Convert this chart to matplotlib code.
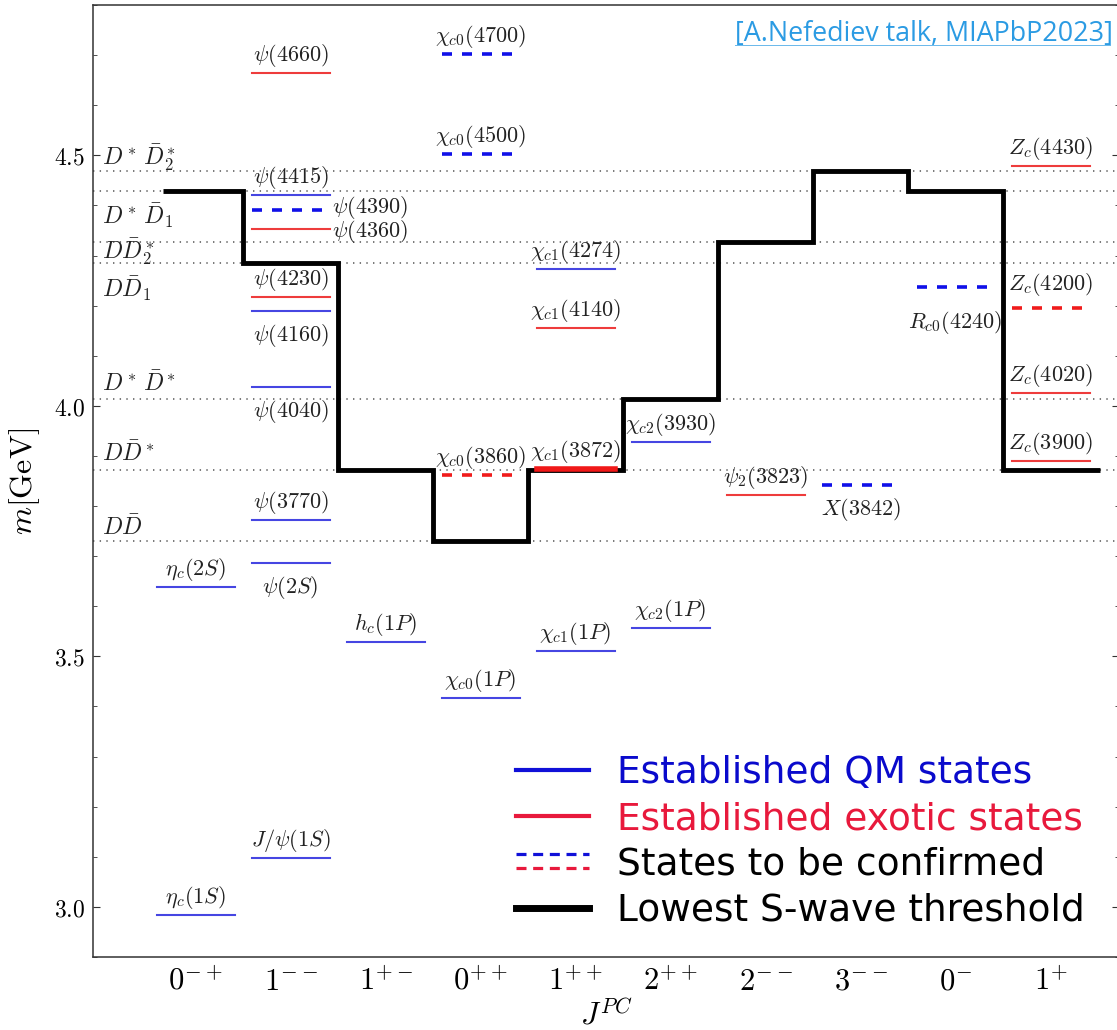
import matplotlib.pyplot as plt
from matplotlib.lines import Line2D
from matplotlib.legend_handler import HandlerBase
from matplotlib.ticker import MultipleLocator, FormatStrFormatter

plt.rcParams['mathtext.fontset'] = 'cm'
plt.rcParams['lines.scale_dashes'] = False

# J^PC columns
jpc = [r'$0^{-+}$', r'$1^{--}$', r'$1^{+-}$', r'$0^{++}$', r'$1^{++}$',
       r'$2^{++}$', r'$2^{--}$', r'$3^{--}$', r'$0^{-}$', r'$1^{+}$']

# lowest S-wave threshold in each column [GeV]
thr_mass = [4.428, 4.285, 3.872, 3.730, 3.872, 4.013, 4.326, 4.468, 4.428, 3.872]
thr_edges = [-0.34, 0.5, 1.5, 2.5, 3.5, 4.5, 5.5, 6.5, 7.5, 8.5, 9.52]

# open-charm thresholds (dotted lines)
ch_names = [r'$D^*\,\bar{D}_2^*$', r'$D^*\,\bar{D}_1$', r'$D\bar{D}_2^*$', r'$D\bar{D}_1$',
            r'$D^*\,\bar{D}^*$', r'$D\bar{D}^*$', r'$D\bar{D}$']
ch_mass = [4.468, 4.428, 4.326, 4.285, 4.013, 3.872, 3.730]

# states: name, column, mass [GeV], kind
st_name = [r'$\eta_c(1S)$', r'$\eta_c(2S)$',
           r'$J/\psi(1S)$', r'$\psi(2S)$', r'$\psi(3770)$', r'$\psi(4040)$', r'$\psi(4160)$',
           r'$\psi(4230)$', r'$\psi(4360)$', r'$\psi(4390)$', r'$\psi(4415)$', r'$\psi(4660)$',
           r'$h_c(1P)$',
           r'$\chi_{c0}(1P)$', r'$\chi_{c0}(3860)$', r'$\chi_{c0}(4500)$', r'$\chi_{c0}(4700)$',
           r'$\chi_{c1}(1P)$', r'$\chi_{c1}(3872)$', r'$\chi_{c1}(4140)$', r'$\chi_{c1}(4274)$',
           r'$\chi_{c2}(1P)$', r'$\chi_{c2}(3930)$',
           r'$\psi_2(3823)$', r'$X(3842)$', r'$R_{c0}(4240)$',
           r'$Z_c(3900)$', r'$Z_c(4020)$', r'$Z_c(4200)$', r'$Z_c(4430)$']
st_col = [0, 0,
          1, 1, 1, 1, 1, 1, 1, 1, 1, 1,
          2,
          3, 3, 3, 3,
          4, 4, 4, 4,
          5, 5,
          6, 7, 8,
          9, 9, 9, 9]
st_mass = [2.984, 3.639,
           3.098, 3.687, 3.773, 4.038, 4.190, 4.218, 4.353, 4.390, 4.420, 4.664,
           3.528,
           3.416, 3.861, 4.503, 4.703,
           3.511, 3.873, 4.155, 4.274,
           3.557, 3.927,
           3.823, 3.843, 4.238,
           3.889, 4.025, 4.195, 4.479]
st_kind = ['qm', 'qm',
           'qm', 'qm', 'qm', 'qm', 'qm', 'ex', 'ex', 'qm?', 'qm', 'ex',
           'qm',
           'qm', 'ex?', 'qm?', 'qm?',
           'qm', 'ex', 'ex', 'qm',
           'qm', 'qm',
           'ex', 'qm?', 'qm?',
           'ex', 'ex', 'ex?', 'ex']

legend_text = ['Established QM states', 'Established exotic states',
               'States to be confirmed', 'Lowest S-wave threshold']

BLUE = '#4646e2'
RED = '#ee3c3c'
styles = {
    'qm': dict(color=BLUE, lw=1.5),
    'ex': dict(color=RED, lw=1.5),
    'qm?': dict(color='#1010e8', lw=2.6, dashes=(7.2, 7.2), dash_capstyle='butt'),
    'ex?': dict(color='#f01c1c', lw=2.6, dashes=(7.2, 7.2), dash_capstyle='butt'),
}
below = {r'$\psi(4160)$', r'$\psi(4040)$', r'$\psi(2S)$', r'$X(3842)$', r'$R_{c0}(4240)$'}
right = {r'$\psi(4390)$': 0.006, r'$\psi(4360)$': -0.006}
extra_gap = {r'$R_{c0}(4240)$': 0.022, r'$Z_c(4200)$': 0.012}

W, H = 1117, 1030
fig = plt.figure(figsize=(W / 100, H / 100), dpi=100)
ax = fig.add_axes([93 / W, (H - 957) / H, (1119 - 93) / W, (957 - 5) / H])
ax.set_xlim(-1.08, 9.72)
ax.set_ylim(2.9, 4.8)

for m in ch_mass:
    ax.axhline(m, color='#555555', lw=1.1, dashes=(1.0, 3.8), zorder=1)
ch_dy = [0.028, -0.048, -0.019, -0.052, 0.031, 0.032, 0.027]
for name, m, dy in zip(ch_names, ch_mass, ch_dy):
    ax.text(-0.98, m + dy, name, fontsize=17, ha='left', va='center', color='#222222')

ax.stairs(thr_mass, thr_edges, baseline=None, color='black', lw=3.5, zorder=3)

hw = 0.41
for name, c, m, k in zip(st_name, st_col, st_mass, st_kind):
    kw = dict(styles[k])
    z = 2
    if name == r'$\chi_{c1}(3872)$':
        kw['lw'] = 4.0
        kw['color'] = '#f01818'
        z = 4
    ax.plot([c - hw, c + hw], [m, m], zorder=z, **kw)
    g = extra_gap.get(name, 0.0)
    if name in right:
        ax.text(c + hw + 0.03, m + right[name], name, fontsize=16, ha='left', va='center',
                color='#222222')
    elif name in below:
        ax.text(c, m - 0.022 - g, name, fontsize=16, ha='center', va='top', color='#222222')
    else:
        ax.text(c, m + 0.008 + g, name, fontsize=16, ha='center', va='bottom', color='#222222')

ax.set_xticks(range(len(jpc)), jpc)
ax.tick_params(axis='x', length=0, labelsize=22, pad=7)
ax.set_yticks([3.0, 3.5, 4.0, 4.5])
ax.yaxis.set_major_formatter(FormatStrFormatter('$%.1f$'))
ax.yaxis.set_minor_locator(MultipleLocator(0.1))
ax.tick_params(axis='y', which='both', direction='in', right=True, labelsize=17, pad=6,
               color='#333333')
ax.tick_params(axis='y', which='major', length=5)
ax.tick_params(axis='y', which='minor', length=3)
for s in ax.spines.values():
    s.set_linewidth(1.1)
    s.set_color('#333333')
ax.set_ylabel(r'$m[\mathrm{GeV}]$', fontsize=23, labelpad=8)
ax.set_xlabel(r'$J^{PC}$', fontsize=22, labelpad=2)


class PairDash(HandlerBase):
    def create_artists(self, legend, orig, x0, y0, w, h, fs, trans):
        top = Line2D([x0, x0 + w], [y0 + 0.78 * h] * 2, color='#1010d8', lw=2.3,
                     dashes=(7.2, 4.8), transform=trans)
        bot = Line2D([x0, x0 + w], [y0 + 0.25 * h] * 2, color='#e8193c', lw=2.3,
                     dashes=(7.2, 4.8), transform=trans)
        return [top, bot]


h_qm = Line2D([], [], color='#1010d8', lw=3)
h_ex = Line2D([], [], color='#e8193c', lw=3)
h_tbc = Line2D([], [])
h_thr = Line2D([], [], color='black', lw=5)
ax.legend([h_qm, h_ex, h_tbc, h_thr], legend_text, handler_map={h_tbc: PairDash()},
          loc='center left', bbox_to_anchor=(516 / W, 1 - 842 / H),
          bbox_transform=fig.transFigure, frameon=False,
          prop={'family': 'DejaVu Sans', 'size': 27}, handlelength=1.95,
          handletextpad=0.75, labelspacing=0.26, borderpad=0, borderaxespad=0,
          labelcolor=['#0a0acc', '#e8193c', 'black', 'black'])

cite = '#2b9be3'
fig.text(1113 / W, 1 - 34 / H, '[A.Nefediev talk, MIAPbP2023]', ha='right', va='center',
         color=cite, fontsize=19.4, family='Open Sans')
fig.add_artist(Line2D([735 / W, 1110 / W], [1 - 45 / H] * 2, transform=fig.transFigure,
                      color=cite, lw=0.7, alpha=0.7))

fig.savefig('out.png', dpi=100)
